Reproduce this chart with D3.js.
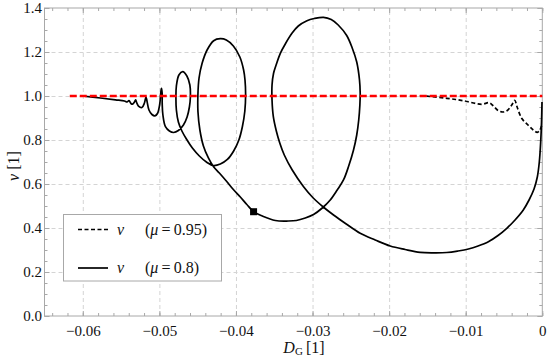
<!DOCTYPE html>
<html>
<head>
<meta charset="utf-8">
<script src="https://cdn.jsdelivr.net/npm/d3@7"></script>
<style>
  body { margin: 0; background: #fff; }
  svg text { font-family: "Liberation Serif", "Times New Roman", serif !important; }
</style>
</head>
<body>
<svg width="550" height="362"></svg>
<script>
// ticks
const xTicks = [-0.06, -0.05, -0.04, -0.03, -0.02, -0.01, 0];
const yTicks = [0, 0.2, 0.4, 0.6, 0.8, 1.0, 1.2, 1.4];

// nu for mu = 0.8 (solid)
const dgLow = [-0.06008, -0.05769, -0.05573, -0.05456, -0.05423, -0.05397, -0.05371, -0.05352, -0.05326, -0.05310,
  -0.05297, -0.05273, -0.05228, -0.05195, -0.05175, -0.05162, -0.05136, -0.05097, -0.05058, -0.05025,
  -0.04995, -0.04982, -0.04973, -0.04964, -0.04963, -0.04954, -0.04921, -0.04869, -0.04813, -0.04752,
  -0.04686, -0.04638, -0.04608, -0.04595, -0.04602, -0.04641, -0.04695, -0.04745, -0.04778, -0.04784,
  -0.04778, -0.04752, -0.04706, -0.04647, -0.04569, -0.04478, -0.04386, -0.04295, -0.04204, -0.04112,
  -0.04030, -0.03962, -0.03917, -0.03884, -0.03874, -0.03882, -0.03900, -0.03949, -0.04034, -0.04126,
  -0.04204, -0.04291, -0.04377, -0.04442, -0.04482, -0.04497, -0.04496, -0.04471, -0.04425, -0.04360,
  -0.04295, -0.04217, -0.04126, -0.04034, -0.03943, -0.03858, -0.03769, -0.03656, -0.03486, -0.03317,
  -0.03212, -0.03095, -0.02987, -0.02873, -0.02769, -0.02678, -0.02596, -0.02528, -0.02465, -0.02423,
  -0.02397, -0.02382, -0.02378, -0.02387, -0.02423, -0.02482, -0.02554, -0.02665, -0.02756, -0.02856,
  -0.02978, -0.03073, -0.03186, -0.03269, -0.03356, -0.03421, -0.03480, -0.03509, -0.03529, -0.03529,
  -0.03512, -0.03473, -0.03428, -0.03369, -0.03265, -0.03117, -0.02991, -0.02860, -0.02726, -0.02560,
  -0.02378, -0.02182, -0.01986, -0.01791, -0.01595, -0.01426, -0.01247, -0.01100, -0.00965, -0.00839,
  -0.00704, -0.00578, -0.00464, -0.00356, -0.00248, -0.00173, -0.00108, -0.00065, -0.00039, -0.00021,
  -0.00010, -0.00004];
const nuLow = [1.0000, 0.9909, 0.9827, 0.9773, 0.9727, 0.9795, 0.9659, 0.9627, 0.9727, 0.9827,
  0.9705, 0.9545, 0.9477, 0.9682, 0.9955, 0.9773, 0.9364, 0.9159, 0.9100, 0.9205,
  0.9636, 1.0136, 1.0350, 1.0136, 0.9636, 0.9136, 0.8605, 0.8409, 0.8341, 0.8432,
  0.8682, 0.9045, 0.9500, 0.9968, 1.0500, 1.0909, 1.1105, 1.0955, 1.0455, 0.9955,
  0.9364, 0.8818, 0.8409, 0.8045, 0.7636, 0.7273, 0.7000, 0.6841, 0.6909, 0.7114,
  0.7500, 0.8000, 0.8591, 0.9318, 1.0045, 1.0727, 1.1182, 1.1773, 1.2273, 1.2545,
  1.2605, 1.2514, 1.2091, 1.1486, 1.0818, 1.0045, 0.9273, 0.8455, 0.7727, 0.7182,
  0.6795, 0.6500, 0.6136, 0.5750, 0.5409, 0.5068, 0.4741, 0.4545, 0.4341, 0.4318,
  0.4341, 0.4455, 0.4614, 0.4909, 0.5273, 0.5727, 0.6182, 0.6818, 0.7545, 0.8227,
  0.8909, 0.9591, 1.0136, 1.0727, 1.1545, 1.2182, 1.2750, 1.3227, 1.3477, 1.3577,
  1.3523, 1.3423, 1.3182, 1.2850, 1.2364, 1.1941, 1.1364, 1.1032, 1.0500, 0.9818,
  0.9059, 0.8409, 0.7864, 0.7318, 0.6636, 0.5877, 0.5364, 0.4955, 0.4591, 0.4182,
  0.3759, 0.3455, 0.3182, 0.3023, 0.2895, 0.2873, 0.2886, 0.2955, 0.3045, 0.3182,
  0.3377, 0.3659, 0.3986, 0.4364, 0.4818, 0.5273, 0.5773, 0.6318, 0.7000, 0.7909,
  0.8818, 0.9727];

// nu for mu = 0.95 (dashed)
const dgHigh = [-0.0160, -0.01508, -0.01247, -0.01030, -0.00790, -0.00695, -0.00639, -0.00574, -0.00509, -0.00457,
  -0.00399, -0.00360, -0.00330, -0.00269, -0.00193, -0.00117, -0.00065, -0.00030, -0.00010];
const nuHigh = [1.0000, 0.9990, 0.9895, 0.9786, 0.9623, 0.9695, 0.9545, 0.9332, 0.9273, 0.9341,
  0.9591, 0.9805, 0.9514, 0.8986, 0.8705, 0.8455, 0.8350, 0.8455, 0.8636];

// reference nu = 1
const refDg = [-0.0617, 0];
const refNu = [1.0, 1.0];

// marked point
const markDg = [-0.0377];
const markNu = [0.474];

const legendItems = [
  { mu: "0.95", dash: "4,2.5" },
  { mu: "0.8", dash: null }
];

const svg = d3.select("svg");
const L = 44.5, R = 542.3, T = 8, B = 316;

const x = d3.scaleLinear().domain([-0.065, 0]).range([L, R]);
const y = d3.scaleLinear().domain([0, 1.4]).range([B, T]);

const gridColor = "#d4d4d4", frameColor = "#a8a8a8";
const serif = '"Liberation Serif", "Times New Roman", serif';

// grid
svg.append("g")
  .attr("transform", `translate(0,${B})`)
  .call(d3.axisBottom(x).tickValues(xTicks.slice(0, -1)).tickSize(-(B - T)).tickFormat(""))
  .call(g => g.select(".domain").remove())
  .call(g => g.selectAll("line").attr("stroke", gridColor).attr("stroke-dasharray", "4,3"));
svg.append("g")
  .attr("transform", `translate(${L},0)`)
  .call(d3.axisLeft(y).tickValues(yTicks.slice(1, -1)).tickSize(-(R - L)).tickFormat(""))
  .call(g => g.select(".domain").remove())
  .call(g => g.selectAll("line").attr("stroke", gridColor).attr("stroke-dasharray", "4,3"));

// frame
svg.append("rect")
  .attr("x", L).attr("y", T).attr("width", R - L).attr("height", B - T)
  .attr("fill", "none").attr("stroke", frameColor).attr("stroke-width", 1);

const xMinor = d3.range(-0.064, 0.0001, 0.002);
const yMinor = d3.range(0, 1.4001, 0.05);

function styleAxis(g) {
  g.attr("font-family", serif);
  g.select(".domain").remove();
  g.selectAll("line").attr("stroke", frameColor);
  g.selectAll("text").attr("fill", "#111").style("font-size", "15px");
}

const fmtX = d => d === 0 ? "0" : d3.format(".2f")(d);

// bottom
svg.append("g").attr("transform", `translate(0,${B})`)
  .call(d3.axisBottom(x).tickValues(xMinor).tickSize(-3).tickFormat("")).call(styleAxis);
svg.append("g").attr("transform", `translate(0,${B})`)
  .call(d3.axisBottom(x).tickValues(xTicks).tickSize(-5).tickPadding(9.5).tickFormat(fmtX)).call(styleAxis);
// top
svg.append("g").attr("transform", `translate(0,${T})`)
  .call(d3.axisTop(x).tickValues(xMinor).tickSize(-3).tickFormat("")).call(styleAxis);
svg.append("g").attr("transform", `translate(0,${T})`)
  .call(d3.axisTop(x).tickValues(xTicks).tickSize(-5).tickFormat("")).call(styleAxis);
// left
svg.append("g").attr("transform", `translate(${L},0)`)
  .call(d3.axisLeft(y).tickValues(yMinor).tickSize(-3).tickFormat("")).call(styleAxis);
svg.append("g").attr("transform", `translate(${L},0)`)
  .call(d3.axisLeft(y).tickValues(yTicks).tickSize(-5).tickPadding(2.5).tickFormat(d3.format(".1f"))).call(styleAxis);
// right
svg.append("g").attr("transform", `translate(${R},0)`)
  .call(d3.axisRight(y).tickValues(yMinor).tickSize(-3).tickFormat("")).call(styleAxis);
svg.append("g").attr("transform", `translate(${R},0)`)
  .call(d3.axisRight(y).tickValues(yTicks).tickSize(-5).tickFormat("")).call(styleAxis);

// curves
const line = d3.line().x(d => x(d[0])).y(d => y(d[1])).curve(d3.curveCatmullRom.alpha(0.5));

svg.append("path")
  .datum(d3.zip(dgLow, nuLow))
  .attr("d", line)
  .attr("fill", "none").attr("stroke", "#000").attr("stroke-width", 1.7)
  .attr("stroke-linejoin", "round");

svg.append("path")
  .datum(d3.zip(dgHigh, nuHigh))
  .attr("d", line)
  .attr("fill", "none").attr("stroke", "#000").attr("stroke-width", 1.7)
  .attr("stroke-dasharray", "4,2.5");

svg.append("path")
  .datum(d3.zip(refDg, refNu))
  .attr("d", d3.line().x(d => x(d[0])).y(d => y(d[1])))
  .attr("fill", "none").attr("stroke", "#f00").attr("stroke-width", 2.4)
  .attr("stroke-dasharray", "7,3");

svg.selectAll(".mark")
  .data(d3.zip(markDg, markNu))
  .join("rect")
  .attr("x", d => x(d[0]) - 3.5).attr("y", d => y(d[1]) - 3.5)
  .attr("width", 7).attr("height", 7).attr("fill", "#000");

// legend
const lg = svg.append("g").attr("font-family", serif);
lg.append("rect")
  .attr("x", 63.5).attr("y", 214.5).attr("width", 158).attr("height", 66.5)
  .attr("fill", "#fff").attr("stroke", "#a8a8a8");
legendItems.forEach((it, i) => {
  const yy = 229.5 + i * 38.5;
  lg.append("line")
    .attr("x1", 78).attr("x2", 108).attr("y1", yy).attr("y2", yy)
    .attr("stroke", "#000").attr("stroke-width", 1.7)
    .attr("stroke-dasharray", it.dash);
  const t = lg.append("text").attr("x", 117).attr("y", yy + 5)
    .style("font-size", "16px").attr("fill", "#111");
  t.append("tspan").style("font-style", "italic").text("ν");
  t.append("tspan").attr("x", 145).text("(");
  t.append("tspan").style("font-style", "italic").text("μ");
  t.append("tspan").text("\u2009=\u2009" + it.mu + ")");
});

// axis labels
const xl = svg.append("text").attr("x", 304).attr("y", 353)
  .attr("font-family", serif)
  .attr("text-anchor", "middle").style("font-size", "16px").attr("fill", "#111");
xl.append("tspan").style("font-style", "italic").text("D");
xl.append("tspan").style("font-size", "11px").attr("dy", 2).text("G");
xl.append("tspan").attr("dy", -2).text("\u2009[1]");

const yl = svg.append("text")
  .attr("transform", "translate(19,166) rotate(-90)")
  .attr("font-family", serif)
  .attr("text-anchor", "middle").style("font-size", "16px").attr("fill", "#111");
yl.append("tspan").style("font-style", "italic").text("ν");
yl.append("tspan").text(" [1]");
</script>
</body>
</html>
